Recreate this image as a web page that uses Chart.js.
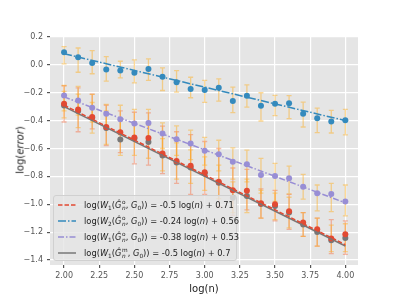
<!DOCTYPE html>
<html>
<head>
<meta charset="utf-8">
<script src="https://cdn.jsdelivr.net/npm/chart.js@4.4.1/dist/chart.umd.min.js"></script>
<style>
    body { margin: 0; background: #fff; }
    #wrap { position: relative; width: 399px; height: 299px; }
    #legend {
        position: absolute; left: 53px; top: 195px; width: 184px; height: 66px;
        background: rgba(229, 229, 229, 0.8); border: 1px solid #d0d0d0; border-radius: 3px;
        box-sizing: border-box; font-family: "DejaVu Sans", sans-serif; font-size: 8.3px; color: #222;
    }
    #legend .row { position: absolute; left: 3px; height: 16px; line-height: 16px; white-space: nowrap; }
    #legend svg { position: absolute; left: 0; top: 5px; }
    #legend .txt { position: absolute; left: 27px; top: 0; }
    #legend i { font-style: italic; }
    #legend .ss { display: inline-flex; flex-direction: column; vertical-align: middle; font-size: 5.8px; line-height: 5.5px; margin-left: 0.5px; }
    #legend sub { font-size: 5.8px; vertical-align: -2px; line-height: 0; }
    #ytitle {
        position: absolute; left: 20px; top: 150px; transform: translate(-50%, -50%) rotate(-90deg);
        font-family: "DejaVu Sans", sans-serif; font-size: 10px; color: #222; white-space: nowrap;
    }
</style>
</head>
<body>
<div id="wrap">
    <canvas id="grafico" width="399" height="299"></canvas>
    <div id="legend"></div>
    <div id="ytitle">log(<i>error</i>)</div>
</div>
<script>
const xValues = [2.0, 2.1, 2.2, 2.3, 2.4, 2.5, 2.6, 2.7, 2.8, 2.9, 3.0, 3.1, 3.2, 3.3, 3.4, 3.5, 3.6, 3.7, 3.8, 3.9, 4.0];
const xTicks = [2.0, 2.25, 2.5, 2.75, 3.0, 3.25, 3.5, 3.75, 4.0];
const yTicks = [0.2, 0.0, -0.2, -0.4, -0.6, -0.8, -1.0, -1.2, -1.4];

// W1, o (red)
const redValues = [-0.279, -0.321, -0.374, -0.445, -0.484, -0.522, -0.524, -0.636, -0.689, -0.724, -0.771, -0.838, -0.9, -0.903, -0.993, -1.0, -1.05, -1.131, -1.18, -1.245, -1.216];
const redHigh = [-0.15, -0.165, -0.21, -0.29, -0.33, -0.34, -0.345, -0.44, -0.48, -0.5, -0.55, -0.6, -0.74, -0.75, -0.89, -0.9, -0.93, -1.06, -1.1, -1.11, -1.12];
const redLow = [-0.41, -0.48, -0.46, -0.58, -0.63, -0.71, -0.72, -0.78, -0.85, -0.93, -0.93, -1.02, -1.08, -1.04, -1.1, -1.12, -1.18, -1.23, -1.3, -1.355, -1.36];
const redFit = [-0.29, -1.29];

// W2, o (blue)
const blueValues = [0.09, 0.054, 0.014, -0.034, -0.041, -0.057, -0.029, -0.086, -0.124, -0.174, -0.181, -0.164, -0.26, -0.221, -0.293, -0.279, -0.276, -0.35, -0.384, -0.407, -0.398];
const blueHigh = [0.131, 0.121, 0.102, 0.059, 0.026, 0.036, 0.043, -0.021, -0.041, -0.089, -0.112, -0.1, -0.16, -0.143, -0.2, -0.219, -0.221, -0.267, -0.31, -0.326, -0.319];
const blueLow = [0.007, -0.053, -0.064, -0.117, -0.093, -0.129, -0.112, -0.184, -0.196, -0.236, -0.269, -0.26, -0.343, -0.303, -0.403, -0.364, -0.386, -0.446, -0.486, -0.489, -0.503];
const blueFit = [0.08, -0.40];

// W1, o (purple)
const purpleValues = [-0.219, -0.255, -0.307, -0.35, -0.39, -0.421, -0.417, -0.493, -0.534, -0.564, -0.617, -0.641, -0.696, -0.714, -0.791, -0.798, -0.814, -0.874, -0.921, -0.926, -0.981];
const purpleHigh = [-0.148, -0.155, -0.212, -0.284, -0.29, -0.32, -0.32, -0.417, -0.438, -0.469, -0.521, -0.541, -0.596, -0.612, -0.671, -0.707, -0.726, -0.786, -0.862, -0.85, -0.862];
const purpleLow = [-0.33, -0.36, -0.41, -0.44, -0.5, -0.53, -0.53, -0.6, -0.65, -0.68, -0.72, -0.76, -0.82, -0.84, -0.92, -0.98, -0.926, -0.964, -1.048, -1.053, -1.084];
const purpleFit = [-0.23, -0.99];

// W1, m (grey)
const greyValues = [-0.291, -0.331, -0.379, -0.453, -0.536, -0.529, -0.553, -0.65, -0.70, -0.736, -0.779, -0.845, -0.953, -0.941, -0.998, -1.012, -1.06, -1.145, -1.2, -1.258, -1.243];
const greyHigh = [-0.19, -0.21, -0.27, -0.33, -0.4, -0.41, -0.43, -0.53, -0.56, -0.61, -0.66, -0.72, -0.84, -0.82, -0.9, -0.92, -0.95, -1.06, -1.1, -1.15, -1.14];
const greyLow = [-0.38, -0.45, -0.49, -0.57, -0.65, -0.65, -0.67, -0.76, -0.82, -0.85, -0.9, -0.96, -1.06, -1.06, -1.1, -1.11, -1.17, -1.23, -1.3, -1.34, -1.34];
const greyFit = [-0.30, -1.30];

const fitRange = [2.0, 4.0];

const legendLabels = [
    'log(<i>W</i><sub>1</sub>(<i>Ĝ</i><span class="ss"><span>o</span><span><i>n</i></span></span>, <i>G</i><sub>0</sub>)) = -0.5 log(<i>n</i>) + 0.71',
    'log(<i>W</i><sub>2</sub>(<i>Ĝ</i><span class="ss"><span>o</span><span><i>n</i></span></span>, <i>G</i><sub>0</sub>)) = -0.24 log(<i>n</i>) + 0.56',
    'log(<i>W</i><sub>1</sub>(<i>Ĝ</i><span class="ss"><span>o</span><span><i>n</i></span></span>, <i>G</i><sub>0</sub>)) = -0.38 log(<i>n</i>) + 0.53',
    'log(<i>W</i><sub>1</sub>(<i>Ĝ</i><span class="ss"><span>m</span><span><i>n</i></span></span>, <i>G</i><sub>0</sub>)) = -0.5 log(<i>n</i>) + 0.7'
];

const series = [
    { nome: 'red', cor: '#E24A33', valores: redValues, altos: redHigh, baixos: redLow, ajuste: redFit, traco: [4.5, 2], barra: 'rgba(245, 120, 80, 0.5)' },
    { nome: 'blue', cor: '#348ABD', valores: blueValues, altos: blueHigh, baixos: blueLow, ajuste: blueFit, traco: [8, 2, 1.5, 2], barra: 'rgba(255, 170, 20, 0.45)' },
    { nome: 'purple', cor: '#988ED5', valores: purpleValues, altos: purpleHigh, baixos: purpleLow, ajuste: purpleFit, traco: [6, 2, 1.5, 2], barra: 'rgba(255, 170, 20, 0.45)' },
    { nome: 'grey', cor: '#777777', valores: greyValues, altos: greyHigh, baixos: greyLow, ajuste: greyFit, traco: [], barra: 'rgba(255, 170, 20, 0.45)' }
];

function pontos(valores) {
    return xValues.map(function (x, i) { return { x: x, y: valores[i] }; });
}

const datasets = [];
series.forEach(function (s) {
    datasets.push({
        label: s.nome + ' fit',
        data: [{ x: fitRange[0], y: s.ajuste[0] }, { x: fitRange[1], y: s.ajuste[1] }],
        showLine: true,
        borderColor: s.cor,
        borderWidth: 1.5,
        borderDash: s.traco,
        pointRadius: 0,
        order: 1
    });
});
series.forEach(function (s) {
    datasets.push({
        label: s.nome,
        data: pontos(s.valores),
        showLine: false,
        backgroundColor: s.cor,
        borderWidth: 0,
        pointRadius: 3,
        order: 2
    });
});

const fundoPlugin = {
    id: 'fundo',
    beforeDraw: function (chart) {
        const area = chart.chartArea;
        const ctx = chart.ctx;
        ctx.save();
        ctx.fillStyle = '#E5E5E5';
        ctx.fillRect(area.left, area.top, area.right - area.left, area.bottom - area.top);
        ctx.restore();
    }
};

const barrasPlugin = {
    id: 'barrasErro',
    beforeDatasetsDraw: function (chart) {
        const ctx = chart.ctx;
        const area = chart.chartArea;
        const sx = chart.scales.x;
        const sy = chart.scales.y;
        ctx.save();
        ctx.beginPath();
        ctx.rect(area.left, area.top, area.right - area.left, area.bottom - area.top);
        ctx.clip();
        ctx.lineWidth = 1.3;
        series.forEach(function (s) {
            ctx.strokeStyle = s.barra;
            xValues.forEach(function (x, i) {
                const px = sx.getPixelForValue(x);
                const top = sy.getPixelForValue(s.altos[i]);
                const bot = sy.getPixelForValue(s.baixos[i]);
                ctx.beginPath();
                ctx.moveTo(px, top);
                ctx.lineTo(px, bot);
                ctx.moveTo(px - 2.5, top);
                ctx.lineTo(px + 2.5, top);
                ctx.moveTo(px - 2.5, bot);
                ctx.lineTo(px + 2.5, bot);
                ctx.stroke();
            });
        });
        ctx.restore();
    }
};

function menos(texto) {
    return texto.replace('-', '\u2212');
}

new Chart(document.getElementById('grafico'), {
    type: 'scatter',
    data: { datasets: datasets },
    plugins: [fundoPlugin, barrasPlugin],
    options: {
        responsive: false,
        animation: false,
        layout: { padding: { top: 36, right: 41, left: 0, bottom: 0 } },
        plugins: {
            legend: { display: false },
            tooltip: { enabled: false }
        },
        scales: {
            x: {
                type: 'linear',
                min: 1.9,
                max: 4.09,
                afterBuildTicks: function (scale) {
                    scale.ticks = xTicks.map(function (v) { return { value: v }; });
                },
                afterFit: function (scale) { scale.height = 34; },
                border: { display: false },
                grid: { color: '#ffffff', lineWidth: 1.2, tickColor: '#555555', tickLength: 3 },
                ticks: {
                    color: '#555555',
                    font: { family: 'DejaVu Sans', size: 8 },
                    padding: 3,
                    maxRotation: 0,
                    callback: function (v) { return v.toFixed(2); }
                },
                title: {
                    display: true,
                    text: 'log(n)',
                    color: '#222222',
                    font: { family: 'DejaVu Sans', size: 10 },
                    padding: { top: 0, bottom: 4 }
                }
            },
            y: {
                type: 'linear',
                min: -1.436,
                max: 0.207,
                afterBuildTicks: function (scale) {
                    scale.ticks = yTicks.map(function (v) { return { value: v }; });
                },
                afterFit: function (scale) { scale.width = 50; },
                border: { display: false },
                grid: { color: '#ffffff', lineWidth: 1.2, tickColor: '#555555', tickLength: 3 },
                ticks: {
                    color: '#555555',
                    font: { family: 'DejaVu Sans', size: 8 },
                    padding: 4,
                    callback: function (v) { return menos(v.toFixed(1)); }
                },
                title: { display: false }
            }
        }
    }
});

const legenda = document.getElementById('legend');
series.forEach(function (s, i) {
    const linha = document.createElement('div');
    linha.className = 'row';
    linha.style.top = (1 + i * 16) + 'px';
    const traco = s.traco.length ? s.traco.join(' ') : 'none';
    linha.innerHTML = '<svg width="19" height="6"><line x1="1" y1="3" x2="19" y2="3" stroke="' + s.cor +
        '" stroke-width="1.5" stroke-dasharray="' + traco + '"/></svg><span class="txt">' + legendLabels[i] + '</span>';
    legenda.appendChild(linha);
});
</script>
</body>
</html>
